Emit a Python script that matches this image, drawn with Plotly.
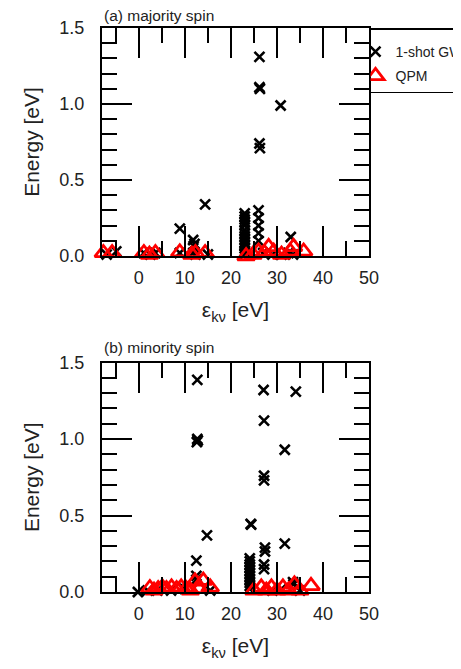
import plotly.graph_objects as go

# ---------------- data ----------------
# (a) majority spin
maj_gw_x = [-7.0, -4.9, 1.1, 2.5, 3.6, 8.9, 11.8, 12.3, 15.0, 27.0, 29.0, 31.0, 32.5, 33.5,
            8.9, 14.4, 11.8, 12.1, 11.9, 33.0, 30.8, 26.2, 26.2, 26.3, 26.2, 26.3,
            23.0, 23.0, 23.0, 23.0, 23.0, 23.0, 23.0, 23.0, 23.0, 23.0, 23.0, 23.0, 23.0, 23.0, 23.0, 23.0,
            26.0, 26.0, 26.0, 26.0, 26.0]
maj_gw_y = [0.01, 0.03, 0.02, 0.01, 0.02, 0.02, 0.02, 0.01, 0.01, 0.02, 0.01, 0.01, 0.02, 0.01,
            0.18, 0.34, 0.105, 0.08, 0.065, 0.125, 0.99, 1.31, 1.11, 1.10, 0.74, 0.71,
            0.28, 0.26, 0.24, 0.22, 0.20, 0.17, 0.15, 0.13, 0.11, 0.09, 0.07, 0.05, 0.03, 0.02, 0.01, -0.02,
            0.30, 0.25, 0.20, 0.15, 0.10]
maj_qpm_x = [-7.7, -5.8, 1.1, 2.3, 3.6, 8.9, 11.5, 12.3, 14.4, 23.3, 24.8, 26.0, 27.3, 28.2,
             29.3, 31.0, 32.9, 33.6, 35.8]
maj_qpm_y = [0.02, 0.02, 0.02, 0.01, 0.02, 0.025, 0.01, 0.02, 0.02, 0.0, 0.01, 0.03, 0.02, 0.06,
             0.03, 0.01, 0.03, 0.06, 0.03]

# (b) minority spin
min_gw_x = [-0.2, 1.9, 4.0, 7.0, 10.0, 15.5, 29.0, 31.0, 35.0,
            12.7, 27.1, 34.1, 27.2, 12.7, 12.6, 12.8, 31.7, 27.2, 27.2,
            24.3, 24.4, 14.8, 31.7, 27.4, 27.4, 12.5, 27.2, 27.2, 12.5, 12.5, 33.5, 33.6,
            24.1, 24.1, 24.1, 24.1, 24.1, 24.1, 24.1, 24.1, 24.1, 24.1, 24.1, 24.1]
min_gw_y = [0.0, 0.01, 0.01, 0.01, 0.02, 0.01, 0.01, 0.02, 0.01,
            1.386, 1.32, 1.31, 1.12, 1.0, 0.98, 0.99, 0.93, 0.76, 0.73,
            0.445, 0.44, 0.37, 0.316, 0.29, 0.265, 0.205, 0.18, 0.15, 0.105, 0.08, 0.065, 0.05,
            0.22, 0.20, 0.18, 0.16, 0.14, 0.12, 0.10, 0.08, 0.06, 0.04, 0.02, -0.02]
min_qpm_x = [2.4, 3.3, 4.2, 5.1, 6.0, 7.1, 8.2, 9.2, 10.3, 11.2, 12.2, 13.1, 14.0, 15.5,
             25.0, 26.6, 27.7, 28.8, 30.0, 31.3, 32.5, 33.8, 35.0, 37.4]
min_qpm_y = [0.026, 0.01, 0.02, 0.03, 0.02, 0.03, 0.02, 0.03, 0.02, 0.01, 0.07, 0.02, 0.075, 0.03,
             0.01, 0.03, 0.01, 0.03, 0.01, 0.03, 0.01, 0.05, 0.01, 0.04]

panel_titles = ["(a) majority spin", "(b) minority spin"]
x_ticks = [0, 10, 20, 30, 40, 50]
y_ticks = [0.0, 0.5, 1.0, 1.5]
y_ticklabels = ["0.0", "0.5", "1.0", "1.5"]

# ---------------- figure ----------------
FONT = "Liberation Sans, Arial, Helvetica, sans-serif"
OFF = 8                      # page body margin
W, H = 461 - OFF, 669 - OFF
ML, MR, MT, MB = 102 - OFF, 92, 28 - OFF, 77

fig = go.Figure()

gw_marker = dict(symbol="x-thin", size=10, color="black", line=dict(width=2.6, color="black"))
qpm_marker = dict(symbol="triangle-up-open", size=15, color="red", line=dict(width=2.8, color="red"))

fig.add_trace(go.Scatter(x=maj_gw_x, y=maj_gw_y, mode="markers", marker=gw_marker,
                         name="1-shot GW", legendgroup="gw", cliponaxis=False,
                         xaxis="x", yaxis="y"))
fig.add_trace(go.Scatter(x=maj_qpm_x, y=maj_qpm_y, mode="markers", marker=qpm_marker,
                         name="QPM", legendgroup="qpm", cliponaxis=False,
                         xaxis="x", yaxis="y"))
fig.add_trace(go.Scatter(x=min_gw_x, y=min_gw_y, mode="markers", marker=gw_marker,
                         name="1-shot GW", legendgroup="gw", showlegend=False, cliponaxis=False,
                         xaxis="x2", yaxis="y2"))
fig.add_trace(go.Scatter(x=min_qpm_x, y=min_qpm_y, mode="markers", marker=qpm_marker,
                         name="QPM", legendgroup="qpm", showlegend=False, cliponaxis=False,
                         xaxis="x2", yaxis="y2"))

plot_h = H - MT - MB
def py(page_px):
    return (H - MB - (page_px - OFF)) / plot_h

top_dom = [py(256), 1.0]
bot_dom = [0.0, py(362.5)]

tickfont = dict(family=FONT, size=18, color="#222")
titlefont = dict(family=FONT, size=21, color="#222")

def xax(anchor):
    return dict(
        range=[-8, 50], tickmode="array", tickvals=x_ticks, ticktext=[str(v) for v in x_ticks],
        ticks="inside", ticklen=30, tickwidth=2, tickcolor="black",
        minor=dict(dtick=5, tick0=0, ticks="inside", ticklen=15, tickwidth=2, tickcolor="black"),
        showline=True, linewidth=2, linecolor="black", mirror="allticks",
        showgrid=False, zeroline=False, tickfont=tickfont, ticklabelstandoff=4,
        title=dict(text="ε<sub>kν</sub> [eV]", font=titlefont, standoff=16),
        anchor=anchor,
    )

def yax(domain, anchor):
    return dict(
        domain=domain, range=[0, 1.5], tickmode="array", tickvals=y_ticks, ticktext=y_ticklabels,
        ticks="inside", ticklen=30, tickwidth=2, tickcolor="black",
        minor=dict(dtick=0.1, tick0=0, ticks="inside", ticklen=15, tickwidth=2, tickcolor="black"),
        showline=True, linewidth=2, linecolor="black", mirror="allticks",
        showgrid=False, zeroline=False, tickfont=tickfont, ticklabelstandoff=12,
        title=dict(text="Energy [eV]", font=titlefont, standoff=14),
        anchor=anchor,
    )

fig.update_layout(
    width=W, height=H,
    margin=dict(l=ML, r=MR, t=MT, b=MB, autoexpand=False),
    paper_bgcolor="white", plot_bgcolor="white",
    font=dict(family=FONT, color="#222"),
    xaxis=xax("y"), yaxis=yax(top_dom, "x"),
    xaxis2=xax("y2"), yaxis2=yax(bot_dom, "x2"),
    showlegend=True,
    legend=dict(x=1.0, xanchor="left", y=1.0, yanchor="top", xref="paper", yref="paper",
                bordercolor="black", borderwidth=1.5, bgcolor="white",
                font=dict(family=FONT, size=14, color="#222"),
                title=dict(text=" ", font=dict(size=5)),
                tracegroupgap=3, indentation=-15),
)

fig.add_annotation(text=panel_titles[0], xref="paper", yref="paper", x=0, y=py(15.5),
                   xanchor="left", yanchor="middle", showarrow=False,
                   font=dict(family=FONT, size=15.5, color="#222"))
fig.add_annotation(text=panel_titles[1], xref="paper", yref="paper", x=0, y=py(348),
                   xanchor="left", yanchor="middle", showarrow=False,
                   font=dict(family=FONT, size=15.5, color="#222"))

fig.write_html("out.html")
